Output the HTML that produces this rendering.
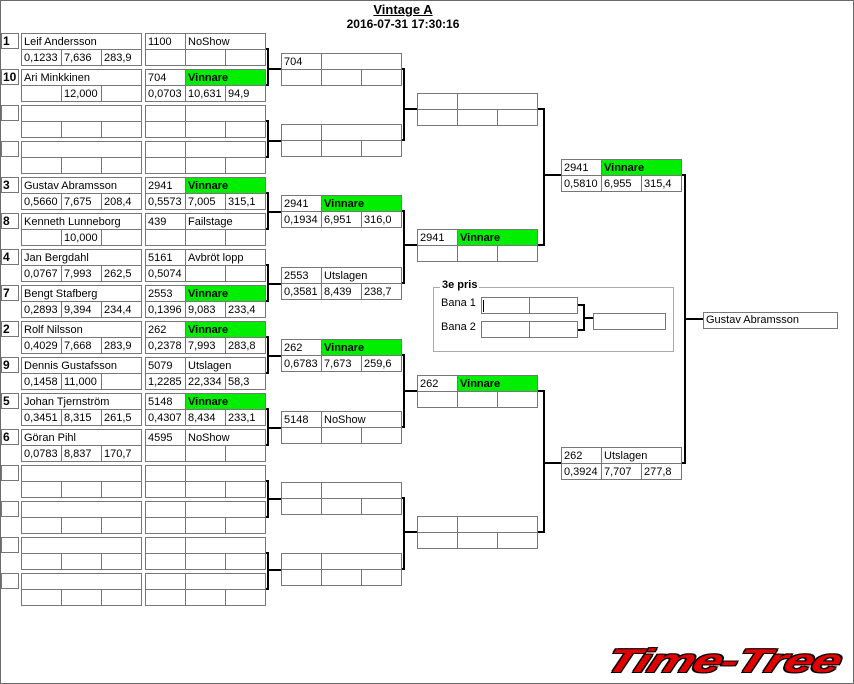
<!DOCTYPE html>
<html><head><meta charset="utf-8"><style>
body{margin:0;width:854px;height:684px;background:#fff;position:relative;overflow:hidden;font-family:"Liberation Sans",Tahoma,sans-serif;font-size:11px;color:#000}
#frame{position:absolute;left:0;top:0;width:852px;height:682px;border:1px solid #6b6b6b}
.bx{position:absolute;width:120px;border-right:1px solid #777;border-bottom:1px solid #777}
.r{display:flex;height:16px}
.r span{box-sizing:border-box;height:16px;border-left:1px solid #777;border-top:1px solid #777;padding-left:2px;line-height:16px;white-space:nowrap;overflow:hidden;flex:0 0 40px}
.r span.w2{flex:0 0 80px}.r span.w3{flex:0 0 120px}
.g{background:#00ee00;font-weight:bold}
.sd{position:absolute;left:1px;width:18px;height:16px;box-sizing:border-box;border:1px solid #777;font-weight:bold;font-size:12px;line-height:14px;padding-left:1px}
.t{position:absolute;font-weight:bold;font-size:12px;text-align:center;left:300px;width:206px}
.ib{position:absolute;width:47px;height:17px;border:1px solid #777;box-sizing:border-box}
svg{position:absolute;left:0;top:0}
</style></head><body>
<div id="frame"></div>
<div class="t" style="top:2px;text-decoration:underline;font-size:13px">Vintage A</div>
<div class="t" style="top:17px">2016-07-31 17:30:16</div>

<div class="sd" style="top:33px">1</div>
<div class="sd" style="top:69px">10</div>
<div class="sd" style="top:105px"></div>
<div class="sd" style="top:141px"></div>
<div class="sd" style="top:177px">3</div>
<div class="sd" style="top:213px">8</div>
<div class="sd" style="top:249px">4</div>
<div class="sd" style="top:285px">7</div>
<div class="sd" style="top:321px">2</div>
<div class="sd" style="top:357px">9</div>
<div class="sd" style="top:393px">5</div>
<div class="sd" style="top:429px">6</div>
<div class="sd" style="top:465px"></div>
<div class="sd" style="top:501px"></div>
<div class="sd" style="top:537px"></div>
<div class="sd" style="top:573px"></div>

<div class="bx" style="left:21px;top:33px"><div class="r"><span class="w3">Leif Andersson</span></div><div class="r"><span>0,1233</span><span>7,636</span><span>283,9</span></div></div>
<div class="bx" style="left:21px;top:69px"><div class="r"><span class="w3">Ari Minkkinen</span></div><div class="r"><span></span><span>12,000</span><span></span></div></div>
<div class="bx" style="left:21px;top:105px"><div class="r"><span class="w3"></span></div><div class="r"><span></span><span></span><span></span></div></div>
<div class="bx" style="left:21px;top:141px"><div class="r"><span class="w3"></span></div><div class="r"><span></span><span></span><span></span></div></div>
<div class="bx" style="left:21px;top:177px"><div class="r"><span class="w3">Gustav Abramsson</span></div><div class="r"><span>0,5660</span><span>7,675</span><span>208,4</span></div></div>
<div class="bx" style="left:21px;top:213px"><div class="r"><span class="w3">Kenneth Lunneborg</span></div><div class="r"><span></span><span>10,000</span><span></span></div></div>
<div class="bx" style="left:21px;top:249px"><div class="r"><span class="w3">Jan Bergdahl</span></div><div class="r"><span>0,0767</span><span>7,993</span><span>262,5</span></div></div>
<div class="bx" style="left:21px;top:285px"><div class="r"><span class="w3">Bengt Stafberg</span></div><div class="r"><span>0,2893</span><span>9,394</span><span>234,4</span></div></div>
<div class="bx" style="left:21px;top:321px"><div class="r"><span class="w3">Rolf Nilsson</span></div><div class="r"><span>0,4029</span><span>7,668</span><span>283,9</span></div></div>
<div class="bx" style="left:21px;top:357px"><div class="r"><span class="w3">Dennis Gustafsson</span></div><div class="r"><span>0,1458</span><span>11,000</span><span></span></div></div>
<div class="bx" style="left:21px;top:393px"><div class="r"><span class="w3">Johan Tjernström</span></div><div class="r"><span>0,3451</span><span>8,315</span><span>261,5</span></div></div>
<div class="bx" style="left:21px;top:429px"><div class="r"><span class="w3">Göran Pihl</span></div><div class="r"><span>0,0783</span><span>8,837</span><span>170,7</span></div></div>
<div class="bx" style="left:21px;top:465px"><div class="r"><span class="w3"></span></div><div class="r"><span></span><span></span><span></span></div></div>
<div class="bx" style="left:21px;top:501px"><div class="r"><span class="w3"></span></div><div class="r"><span></span><span></span><span></span></div></div>
<div class="bx" style="left:21px;top:537px"><div class="r"><span class="w3"></span></div><div class="r"><span></span><span></span><span></span></div></div>
<div class="bx" style="left:21px;top:573px"><div class="r"><span class="w3"></span></div><div class="r"><span></span><span></span><span></span></div></div>

<div class="bx" style="left:145px;top:33px"><div class="r"><span>1100</span><span class="w2">NoShow</span></div><div class="r"><span></span><span></span><span></span></div></div>
<div class="bx" style="left:145px;top:69px"><div class="r"><span>704</span><span class="w2 g">Vinnare</span></div><div class="r"><span>0,0703</span><span>10,631</span><span>94,9</span></div></div>
<div class="bx" style="left:145px;top:105px"><div class="r"><span></span><span class="w2"></span></div><div class="r"><span></span><span></span><span></span></div></div>
<div class="bx" style="left:145px;top:141px"><div class="r"><span></span><span class="w2"></span></div><div class="r"><span></span><span></span><span></span></div></div>
<div class="bx" style="left:145px;top:177px"><div class="r"><span>2941</span><span class="w2 g">Vinnare</span></div><div class="r"><span>0,5573</span><span>7,005</span><span>315,1</span></div></div>
<div class="bx" style="left:145px;top:213px"><div class="r"><span>439</span><span class="w2">Failstage</span></div><div class="r"><span></span><span></span><span></span></div></div>
<div class="bx" style="left:145px;top:249px"><div class="r"><span>5161</span><span class="w2">Avbröt lopp</span></div><div class="r"><span>0,5074</span><span></span><span></span></div></div>
<div class="bx" style="left:145px;top:285px"><div class="r"><span>2553</span><span class="w2 g">Vinnare</span></div><div class="r"><span>0,1396</span><span>9,083</span><span>233,4</span></div></div>
<div class="bx" style="left:145px;top:321px"><div class="r"><span>262</span><span class="w2 g">Vinnare</span></div><div class="r"><span>0,2378</span><span>7,993</span><span>283,8</span></div></div>
<div class="bx" style="left:145px;top:357px"><div class="r"><span>5079</span><span class="w2">Utslagen</span></div><div class="r"><span>1,2285</span><span>22,334</span><span>58,3</span></div></div>
<div class="bx" style="left:145px;top:393px"><div class="r"><span>5148</span><span class="w2 g">Vinnare</span></div><div class="r"><span>0,4307</span><span>8,434</span><span>233,1</span></div></div>
<div class="bx" style="left:145px;top:429px"><div class="r"><span>4595</span><span class="w2">NoShow</span></div><div class="r"><span></span><span></span><span></span></div></div>
<div class="bx" style="left:145px;top:465px"><div class="r"><span></span><span class="w2"></span></div><div class="r"><span></span><span></span><span></span></div></div>
<div class="bx" style="left:145px;top:501px"><div class="r"><span></span><span class="w2"></span></div><div class="r"><span></span><span></span><span></span></div></div>
<div class="bx" style="left:145px;top:537px"><div class="r"><span></span><span class="w2"></span></div><div class="r"><span></span><span></span><span></span></div></div>
<div class="bx" style="left:145px;top:573px"><div class="r"><span></span><span class="w2"></span></div><div class="r"><span></span><span></span><span></span></div></div>

<div class="bx" style="left:281px;top:53px"><div class="r"><span>704</span><span class="w2"></span></div><div class="r"><span></span><span></span><span></span></div></div>
<div class="bx" style="left:281px;top:124px"><div class="r"><span></span><span class="w2"></span></div><div class="r"><span></span><span></span><span></span></div></div>
<div class="bx" style="left:281px;top:195px"><div class="r"><span>2941</span><span class="w2 g">Vinnare</span></div><div class="r"><span>0,1934</span><span>6,951</span><span>316,0</span></div></div>
<div class="bx" style="left:281px;top:267px"><div class="r"><span>2553</span><span class="w2">Utslagen</span></div><div class="r"><span>0,3581</span><span>8,439</span><span>238,7</span></div></div>
<div class="bx" style="left:281px;top:339px"><div class="r"><span>262</span><span class="w2 g">Vinnare</span></div><div class="r"><span>0,6783</span><span>7,673</span><span>259,6</span></div></div>
<div class="bx" style="left:281px;top:411px"><div class="r"><span>5148</span><span class="w2">NoShow</span></div><div class="r"><span></span><span></span><span></span></div></div>
<div class="bx" style="left:281px;top:482px"><div class="r"><span></span><span class="w2"></span></div><div class="r"><span></span><span></span><span></span></div></div>
<div class="bx" style="left:281px;top:553px"><div class="r"><span></span><span class="w2"></span></div><div class="r"><span></span><span></span><span></span></div></div>

<div class="bx" style="left:417px;top:93px"><div class="r"><span></span><span class="w2"></span></div><div class="r"><span></span><span></span><span></span></div></div>
<div class="bx" style="left:417px;top:229px"><div class="r"><span>2941</span><span class="w2 g">Vinnare</span></div><div class="r"><span></span><span></span><span></span></div></div>
<div class="bx" style="left:417px;top:375px"><div class="r"><span>262</span><span class="w2 g">Vinnare</span></div><div class="r"><span></span><span></span><span></span></div></div>
<div class="bx" style="left:417px;top:516px"><div class="r"><span></span><span class="w2"></span></div><div class="r"><span></span><span></span><span></span></div></div>

<div class="bx" style="left:561px;top:159px"><div class="r"><span>2941</span><span class="w2 g">Vinnare</span></div><div class="r"><span>0,5810</span><span>6,955</span><span>315,4</span></div></div>
<div class="bx" style="left:561px;top:447px"><div class="r"><span>262</span><span class="w2">Utslagen</span></div><div class="r"><span>0,3924</span><span>7,707</span><span>277,8</span></div></div>

<div style="position:absolute;left:703px;top:312px;width:131px;height:15px;border:1px solid #777;line-height:15px;padding-left:2px;box-sizing:content-box">Gustav Abramsson</div>

<div style="position:absolute;left:433px;top:287px;width:239px;height:63px;border:1px solid #aaa"></div>
<div style="position:absolute;left:440px;top:279px;background:#fff;padding:0 2px;font-weight:bold">3e pris</div>
<div style="position:absolute;left:441px;top:297px">Bana 1</div>
<div style="position:absolute;left:441px;top:321px">Bana 2</div>
<div class="ib" style="left:481px;top:297px;width:49px"></div>
<div class="ib" style="left:529px;top:297px;width:49px"></div>
<div class="ib" style="left:481px;top:321px;width:49px"></div>
<div class="ib" style="left:529px;top:321px;width:49px"></div>
<div style="position:absolute;left:483px;top:300px;width:1px;height:12px;background:#000"></div>
<div style="position:absolute;left:593px;top:313px;width:71px;height:15px;border:1px solid #777"></div>

<svg width="854" height="684">
<g stroke="#000" stroke-width="2" fill="none">
<path d="M266 49H268V85H266M268 69H281"/>
<path d="M266 121H268V157H266M268 141H281"/>
<path d="M266 193H268V229H266M268 212H281"/>
<path d="M266 265H268V301H266M268 284H281"/>
<path d="M266 337H268V373H266M268 356H281"/>
<path d="M266 409H268V445H266M268 428H281"/>
<path d="M266 481H268V517H266M268 499H281"/>
<path d="M266 553H268V589H266M268 570H281"/>
<path d="M402 69H404V140H402M404 109H417"/>
<path d="M402 211H404V283H402M404 245H417"/>
<path d="M402 355H404V427H402M404 391H417"/>
<path d="M402 498H404V569H402M404 532H417"/>
<path d="M538 109H544V245H538M544 175H561"/>
<path d="M538 391H544V532H538M544 463H561"/>
<path d="M682 175H685V463H682M685 319H703"/>
<path d="M578 305H584V330H578M584 318H593"/>
</g>
</svg>

<div style="position:absolute;left:606px;top:642px;width:245px;height:40px;overflow:hidden">
<div style="position:absolute;left:8px;top:0;font:italic bold 33px 'Liberation Sans',sans-serif;color:#e00000;transform:skewX(-20deg) scaleX(1.58);transform-origin:left top;letter-spacing:-1px;text-shadow:1px 1px 0 #000,-1px -1px 0 #000,1px -1px 0 #000,-1px 1px 0 #000">Time-Tree</div>
</div>
</body></html>
